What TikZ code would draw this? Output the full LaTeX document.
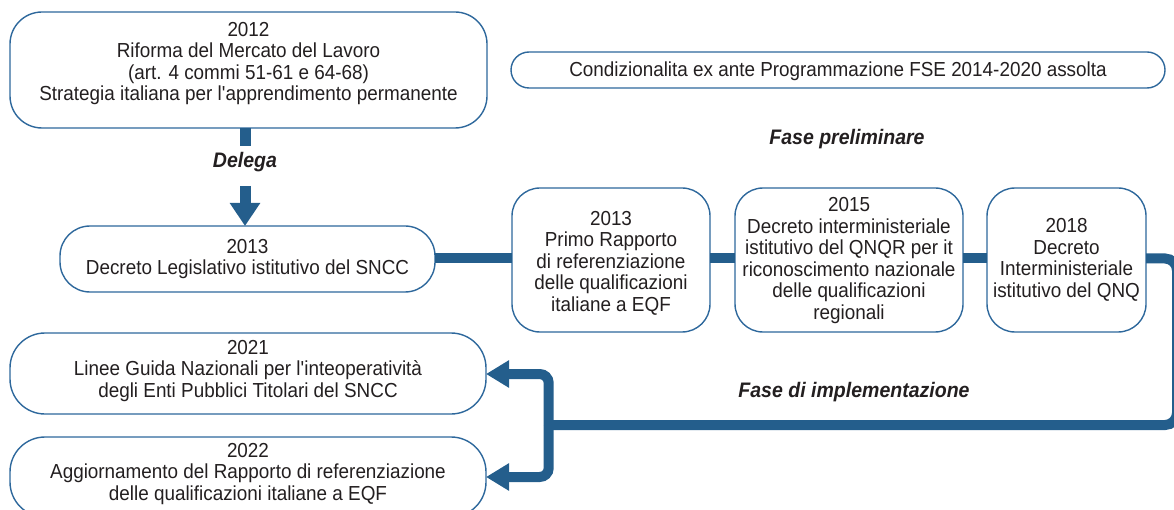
\documentclass[tikz,border=0pt]{standalone}
\usepackage{fontspec}
\setmainfont{Liberation Sans}[FakeStretch=0.93]
\usetikzlibrary{arrows.meta}
\definecolor{bordercol}{RGB}{46,104,156}
\definecolor{linecol}{RGB}{36,94,140}
\definecolor{textcol}{RGB}{35,31,32}
\tikzset{
  box/.style={draw=bordercol, fill=white, line width=1.4pt, rounded corners=#1, inner sep=0pt, outer sep=0pt},
  box/.default=30pt,
  txt/.style={text=textcol, align=center, inner sep=0pt, font=\fontsize{20.3}{21.5}\selectfont},
  lbl/.style={text=textcol, inner sep=0pt, font=\fontsize{21}{22}\selectfont\bfseries\itshape},
  conn/.style={draw=linecol, line width=10pt},
  tipL/.style={-{Triangle[width=26pt,length=23pt]}},
  tipD/.style={-{Triangle[width=29pt,length=23pt]}},
}
\begin{document}
\begin{tikzpicture}[x=1pt,y=-1pt]
\useasboundingbox (0,0) rectangle (1174,510);

% boxes
\node[box=32pt, minimum width=477pt, minimum height=116pt] (b2012) at (248.5,70) {};
\node[txt] (t2012) at (248.5,63.5) {2012\\Riforma del Mercato del Lavoro\\(art. 4 commi 51-61 e 64-68)\\Strategia italiana per l\textquotesingle apprendimento permanente};

\node[box=18pt, minimum width=654pt, minimum height=36pt] (bcond) at (838,70) {};
\node[txt] (tcond) at (838,71) {Condizionalita ex ante Programmazione FSE 2014-2020 assolta};

\node[lbl] (fprel) at (847,139) {Fase preliminare};

\node[box=30pt, minimum width=375pt, minimum height=66pt] (bsncc) at (247.5,259) {};
\node[txt] (tsncc) at (247.5,259) {2013\\Decreto Legislativo istitutivo del SNCC};

\node[box=28pt, minimum width=198pt, minimum height=144pt] (bprimo) at (611,260) {};
\node[txt] (tprimo) at (611,263) {2013\\Primo Rapporto\\di referenziazione\\delle qualificazioni\\italiane a EQF};

\node[box=28pt, minimum width=228pt, minimum height=144pt] (b2015) at (849,260) {};
\node[txt] (t2015) at (849,260.5) {2015\\Decreto interministeriale\\istitutivo del QNQR per it\\riconoscimento nazionale\\delle qualificazioni\\regionali};

\node[box=28pt, minimum width=159pt, minimum height=144pt] (b2018) at (1066.5,260) {};
\node[txt] (t2018) at (1066.5,260) {2018\\Decreto\\Interministeriale\\istitutivo del QNQ};

\node[lbl] (fimpl) at (854,392) {Fase di implementazione};

\node[box=35pt, minimum width=476pt, minimum height=81pt] (b2021) at (248,373.5) {};
\node[txt] (t2021) at (248,371) {2021\\Linee Guida Nazionali per l\textquotesingle inteoperatività\\degli Enti Pubblici Titolari del SNCC};

\node[box=35pt, minimum width=476pt, minimum height=80pt] (b2022) at (248,477) {};
\node[txt] (t2022) at (248,474) {2022\\Aggiornamento del Rapporto di referenziazione\\delle qualificazioni italiane a EQF};

% Delega
\node[lbl] (delega) at (245,162) {Delega};
\coordinate (d1) at (245,146);
\coordinate (d2) at (245,186);
\draw[conn, line width=11pt] (b2012.south -| d1) -- (d1);
\draw[conn, line width=11pt, tipD] (d2) -- (d2 |- bsncc.north);

% timeline
\coordinate (ry) at (0,258.5);
\draw[conn] (bsncc.east |- ry) -- (bprimo.west |- ry);
\draw[conn] (bprimo.east |- ry) -- (b2015.west |- ry);
\draw[conn] (b2015.east |- ry) -- (b2018.west |- ry);
\coordinate (rc1) at (1177,258.5);
\coordinate (rc2) at (1177,425);
\coordinate (junc) at (548.7,425);
\draw[conn, rounded corners=12pt] (b2018.east |- ry) -- (rc1) -- (rc2) -- (junc);

\coordinate (ua) at (548.7,374);
\coordinate (da) at (548.7,477);
\draw[conn, tipL, rounded corners=9pt] (junc) -- (ua) -- (b2021.east |- ua);
\draw[conn, tipL, rounded corners=9pt] (junc) -- (da) -- (b2022.east |- da);
\end{tikzpicture}
\end{document}
